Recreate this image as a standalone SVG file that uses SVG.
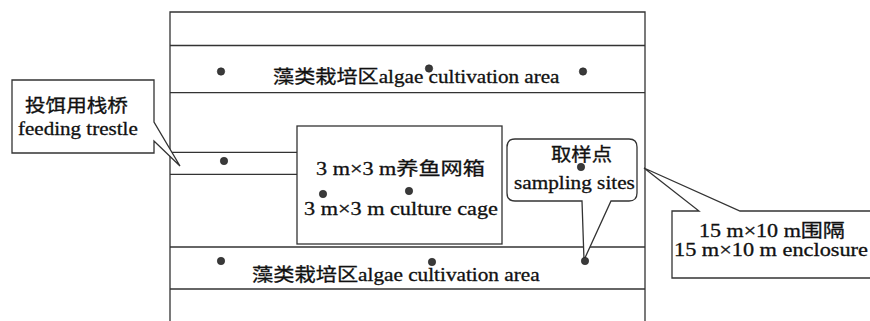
<svg xmlns="http://www.w3.org/2000/svg" width="870" height="321" viewBox="0 0 870 321">
<style>
.ln{fill:none;stroke:#333;stroke-width:1.3}
.bx{fill:#fff;stroke:#333;stroke-width:1.3}
.dot{fill:#3a3a3a;stroke:#222;stroke-width:0.6}
</style>
<rect width="870" height="321" fill="#fff"/>
<g id="enclosure-area">
<path class="ln" d="M170,326 V12 H645 V326"/>
<line class="ln" x1="170" y1="45.5" x2="645" y2="45.5"/>
<line class="ln" x1="170" y1="92.7" x2="645" y2="92.7"/>
<line class="ln" x1="170" y1="247" x2="645" y2="247"/>
<line class="ln" x1="170" y1="289" x2="645" y2="289"/>
</g>
<g font-family="Liberation Serif, Noto Sans CJK SC, serif" font-size="18" fill="#111" stroke="#111" stroke-width="0.3">
<g id="algae-top">
<text transform="translate(273,83) scale(1.176,1)">藻类栽培区algae cultivation area</text>
</g>
<g id="algae-bottom">
<text transform="translate(252,281) scale(1.18,1)">藻类栽培区algae cultivation area</text>
</g>
</g>
<g id="trestle">
<line class="ln" x1="170" y1="152.3" x2="297" y2="152.3"/>
<line class="ln" x1="170" y1="174.3" x2="297" y2="174.3"/>
</g>
<g id="cage" font-family="Liberation Serif, Noto Sans CJK SC, serif" font-size="18">
<rect class="bx" x="297" y="126" width="205" height="118"/>
<g fill="#111" stroke="#111" stroke-width="0.3">
<text transform="translate(316,175) scale(1.233,1)">3 m×3 m养鱼网箱</text>
<text transform="translate(304,215) scale(1.235,1)">3 m×3 m culture cage</text>
</g>
</g>
<g id="callout-trestle" font-family="Liberation Serif, Noto Sans CJK SC, serif" font-size="18">
<path class="bx" d="M12,80 H154 V122 L180,166 L154,141 V153 H12 Z"/>
<g fill="#111" stroke="#111" stroke-width="0.3">
<text transform="translate(25,112) scale(1.144,1)">投饵用栈桥</text>
<text transform="translate(18,135) scale(1.17,1)">feeding trestle</text>
</g>
</g>
<g id="callout-sampling" font-family="Liberation Serif, Noto Sans CJK SC, serif" font-size="18">
<path class="bx" d="M515,139 H629 Q637,139 637,147 V193 Q637,201 629,201 H611 L584,260 L582,201 H515 Q507,201 507,193 V147 Q507,139 515,139 Z"/>
<g fill="#111" stroke="#111" stroke-width="0.3">
<text transform="translate(551,161) scale(1.13,1)">取样点</text>
<text transform="translate(514,189) scale(1.18,1)">sampling sites</text>
</g>
</g>
<g id="callout-enclosure" font-family="Liberation Serif, Noto Sans CJK SC, serif" font-size="18">
<path class="bx" d="M880,211 H740 L644,168 L699,211 H672 V278 H880"/>
<g fill="#111" stroke="#111" stroke-width="0.3">
<text transform="translate(699,237) scale(1.225,1)">15 m×10 m围隔</text>
<text transform="translate(674,256) scale(1.239,1)">15 m×10 m enclosure</text>
</g>
</g>
<g id="sampling-dots">
<circle class="dot" cx="221" cy="71.5" r="3.7"/>
<circle class="dot" cx="429" cy="68.5" r="3.7"/>
<circle class="dot" cx="583" cy="71.5" r="3.7"/>
<circle class="dot" cx="224" cy="161" r="3.7"/>
<circle class="dot" cx="323" cy="194" r="3.7"/>
<circle class="dot" cx="409" cy="191" r="3.7"/>
<circle class="dot" cx="581" cy="167" r="3.7"/>
<circle class="dot" cx="221" cy="261" r="3.7"/>
<circle class="dot" cx="432" cy="262" r="3.7"/>
<circle class="dot" cx="585" cy="261" r="3.7"/>
</g>
</svg>
